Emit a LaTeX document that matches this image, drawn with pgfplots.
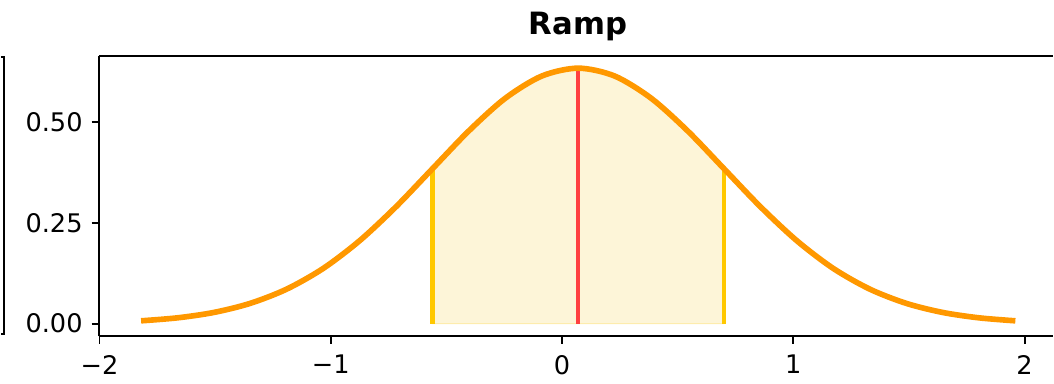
\documentclass[border=0pt]{standalone}
\usepackage{fontspec}
\setmainfont{DejaVu Sans}
\usepackage{pgfplots}
\pgfplotsset{compat=1.18}
\definecolor{curveorange}{RGB}{255,152,0}
\definecolor{sdgold}{RGB}{255,200,0}
\definecolor{meanred}{RGB}{255,64,64}
\definecolor{shade}{RGB}{253,245,216}
\begin{document}
\begin{tikzpicture}
\begin{axis}[
  name=ax, at={(0,0)}, anchor=south west,
  scale only axis, width=372.84pt, height=109.59pt,
  xmin=-2.003, xmax=2.123, ymin=-0.0316, ymax=0.6636,
  axis x line*=box, axis y line*=left,
  axis line style={line width=0.75pt, -},
  xtick={-2,-1,0,1,2}, xticklabels={−2,−1,0,1,2},
  ytick={0,0.25,0.5}, yticklabels={0.00,0.25,0.50},
  xtick pos=bottom, ytick pos=left,
  tick align=outside, major tick length=2.8pt,
  tick style={line width=0.75pt, black},
  /pgf/number format/assume math mode=true,
  ticklabel style={font=\fontsize{10}{12}\selectfont},
  xticklabel shift=1pt,
  title={Ramp},
  title style={font=\fontsize{12}{14}\selectfont\bfseries, at={(0.502,1)}, anchor=base, yshift=2.5pt},
  clip=false,
]
% shaded +/- 1 sd region
\addplot[fill=shade, draw=shade!80!sdgold, line width=0.4pt, smooth] coordinates {
  (-0.56,0.3841) (-0.4025,0.4780) (-0.245,0.5588) (-0.0875,0.6137) (0.07,0.6332)
  (0.2275,0.6137) (0.385,0.5588) (0.5425,0.4780) (0.70,0.3841)
} |- (axis cs:-0.56,0) -- cycle;
% sd lines
\addplot[sdgold, line width=1.6pt] coordinates {(-0.56,0) (-0.56,0.3841)};
\addplot[sdgold, line width=1.6pt] coordinates {(0.70,0) (0.70,0.3841)};
% mean line
\addplot[meanred, line width=1.6pt] coordinates {(0.07,0) (0.07,0.6332)};
% density curve
\addplot[curveorange, line width=2.2pt, smooth] coordinates {
  (-1.82,0.0070) (-1.6625,0.0144) (-1.505,0.0278) (-1.3475,0.0504) (-1.19,0.0857)
  (-1.0325,0.1369) (-0.875,0.2056) (-0.7175,0.2899) (-0.56,0.3841) (-0.4025,0.4780)
  (-0.245,0.5588) (-0.0875,0.6137) (0.07,0.6332) (0.2275,0.6137) (0.385,0.5588)
  (0.5425,0.4780) (0.70,0.3841) (0.8575,0.2899) (1.015,0.2056) (1.1725,0.1369)
  (1.33,0.0857) (1.4875,0.0504) (1.645,0.0278) (1.8025,0.0144) (1.96,0.0070)
};
\end{axis}
% edge of neighbouring panel
\draw[line width=0.75pt] (-38.22pt,109.3pt) -- (-37.05pt,109.3pt) -- (-37.05pt,0.78pt) -- (-38.22pt,0.78pt);
\path (-38.22pt,-17.94pt) rectangle (372.84pt,131.43pt);
\end{tikzpicture}
\end{document}
